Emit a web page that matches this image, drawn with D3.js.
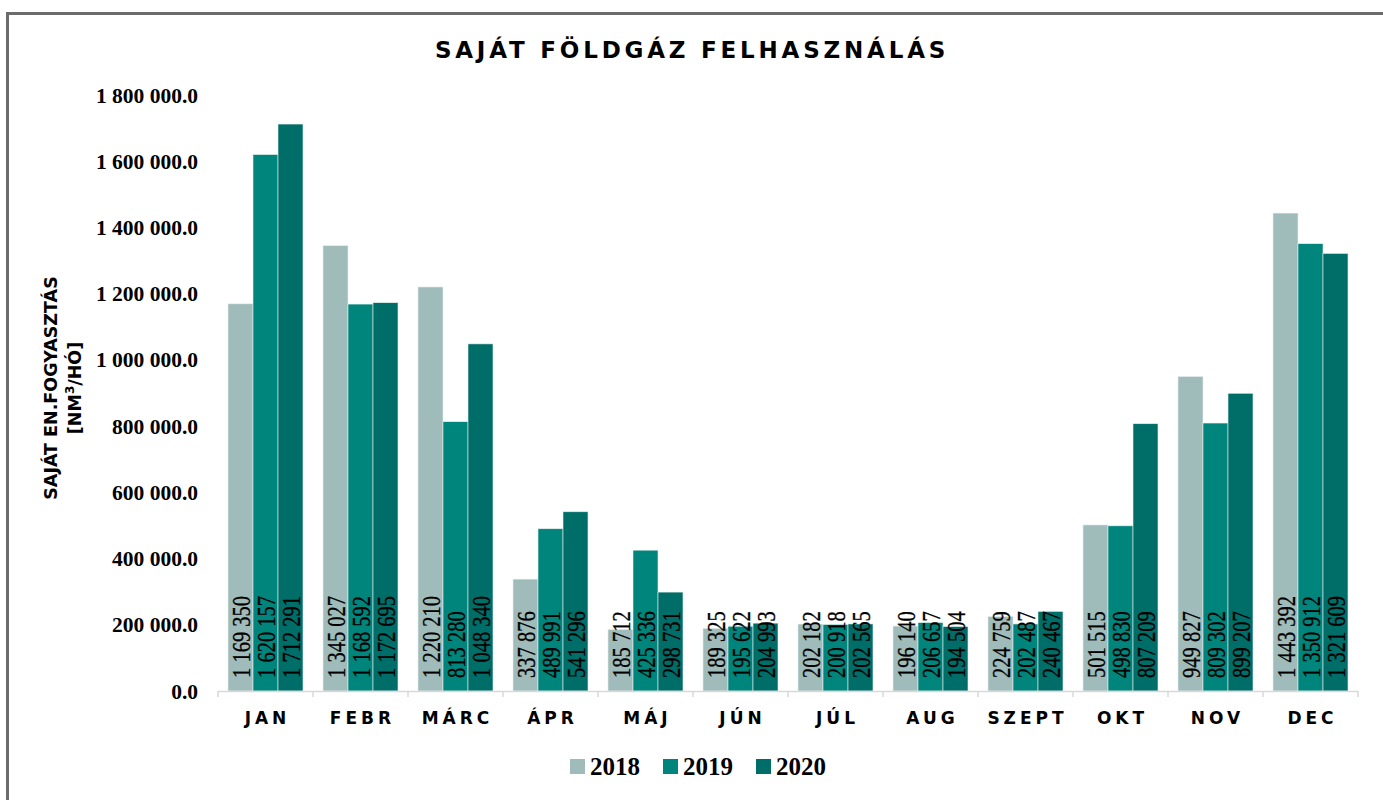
<!DOCTYPE html>
<html>
<head>
<meta charset="utf-8">
<script src="https://cdn.jsdelivr.net/npm/d3@7"></script>
<style>
  body { margin: 0; background: #fff; }
  svg { display: block; }
</style>
</head>
<body>
<svg id="chart" width="1383" height="800"></svg>
<script>
// chart data
var months = ['JAN','FEBR','MÁRC','ÁPR','MÁJ','JÚN','JÚL','AUG','SZEPT','OKT','NOV','DEC']
var years = ['2018','2019','2020']
var v2018 = [1169350, 1345027, 1220210, 337876, 185712, 189325, 202182, 196140, 224759, 501515, 949827, 1443392]
var v2019 = [1620157, 1168592, 813280, 489991, 425336, 195622, 200918, 206657, 202487, 498830, 809302, 1350912]
var v2020 = [1712291, 1172695, 1048340, 541296, 298731, 204993, 202565, 194504, 240467, 807209, 899207, 1321609]
var yTicks = [0, 200000, 400000, 600000, 800000, 1000000, 1200000, 1400000, 1600000, 1800000]
var colors = ['#a0bcba', '#00857c', '#006e68']

var series = [v2018, v2019, v2020]
var rows = []
months.forEach(function(m, i) {
  years.forEach(function(yr, j) {
    rows.push({month: m, year: yr, idx: j, value: series[j][i]})
  })
})

var svg = d3.select('#chart')

// outer frame (only top and left visible in the picture)
svg.append('rect')
  .attr('x', 7.5).attr('y', 13.5)
  .attr('width', 1400).attr('height', 820)
  .attr('fill', 'none').attr('stroke', '#6b6b6b').attr('stroke-width', 3)

var x = d3.scaleBand().domain(months).range([218, 1358]).padding(0)
var xInner = d3.scaleBand().domain(years).range([10, 85]).padding(0)
var y = d3.scaleLinear().domain([0, 1800000]).range([691, 95])

// title
svg.append('text')
  .attr('x', 692).attr('y', 58)
  .attr('text-anchor', 'middle')
  .style('font-family', '"DejaVu Sans", sans-serif')
  .style('font-weight', 'bold')
  .style('font-size', '23px')
  .style('letter-spacing', '3.8px')
  .text('SAJÁT FÖLDGÁZ FELHASZNÁLÁS')

// y axis labels
var fmt = d3.format(',.1f')
svg.append('g').selectAll('text')
  .data(yTicks)
  .enter().append('text')
  .attr('x', 198)
  .attr('y', function(d) { return y(d) })
  .attr('dy', '0.35em')
  .attr('text-anchor', 'end')
  .style('font-family', '"Liberation Serif", serif')
  .style('font-weight', 'bold')
  .style('font-size', '21.5px')
  .text(function(d) { return fmt(d).replace(/,/g, ' ') })

// y axis title
var yt = svg.append('text')
  .attr('transform', 'translate(0,388) rotate(-90)')
  .attr('text-anchor', 'middle')
  .style('font-family', '"DejaVu Sans", sans-serif')
  .style('font-weight', 'bold')
  .style('font-size', '17.5px')
yt.append('tspan').attr('x', 0).attr('y', 57).text('SAJÁT EN.FOGYASZTÁS')
var t2 = yt.append('tspan').attr('x', 0).attr('y', 81).text('[NM')
t2.append('tspan').attr('dy', -7).style('font-size', '12px').text('3')
t2.append('tspan').attr('dy', 7).text('/HÓ]')

// bars
svg.append('g').selectAll('rect')
  .data(rows)
  .enter().append('rect')
  .attr('x', function(d) { return x(d.month) + xInner(d.year) })
  .attr('y', function(d) { return y(d.value) })
  .attr('width', xInner.bandwidth())
  .attr('height', function(d) { return y(0) - y(d.value) })
  .attr('fill', function(d) { return colors[d.idx] })
  .attr('stroke', '#e6eeee').attr('stroke-width', 0.6)

// x axis line and ticks
var xa = svg.append('g')
xa.append('line')
  .attr('x1', 218).attr('x2', 1358).attr('y1', 691.5).attr('y2', 691.5)
  .attr('stroke', '#d9d9d9').attr('stroke-width', 1.5)
var bounds = months.map(function(m) { return x(m) }).concat([x.range()[1]])
xa.selectAll('line.tk')
  .data(bounds)
  .enter().append('line')
  .attr('class', 'tk')
  .attr('x1', function(d) { return d }).attr('x2', function(d) { return d })
  .attr('y1', 691).attr('y2', 697)
  .attr('stroke', '#d9d9d9').attr('stroke-width', 1.5)
xa.selectAll('text')
  .data(months)
  .enter().append('text')
  .attr('x', function(d) { return x(d) + x.bandwidth() / 2 + 2 })
  .attr('y', 724)
  .attr('text-anchor', 'middle')
  .style('font-family', '"DejaVu Sans", sans-serif')
  .style('font-weight', 'bold')
  .style('font-size', '17px')
  .style('letter-spacing', '4px')
  .text(function(d) { return d })

// value labels inside bars
var nf = d3.format(',')
svg.append('g').selectAll('text')
  .data(rows)
  .enter().append('text')
  .attr('transform', function(d) {
    var cx = x(d.month) + xInner(d.year) + xInner.bandwidth() / 2 + 9.5
    return 'translate(' + cx + ',678) rotate(-90) scale(0.79,1)'
  })
  .style('font-family', '"Liberation Serif", serif')
  .style('font-size', '26px')
  .attr('fill', '#000')
  .attr('stroke', '#000').attr('stroke-width', 0.35)
  .text(function(d) { return nf(d.value).replace(/,/g, ' ') })

// legend
var lg = svg.append('g').selectAll('g')
  .data(years)
  .enter().append('g')
  .attr('transform', function(d, i) { return 'translate(' + (570 + i * 93) + ',0)' })
lg.append('rect')
  .attr('x', 0).attr('y', 759).attr('width', 15).attr('height', 15)
  .attr('fill', function(d, i) { return colors[i] })
lg.append('text')
  .attr('x', 20).attr('y', 775)
  .style('font-family', '"Liberation Serif", serif')
  .style('font-weight', 'bold')
  .style('font-size', '25px')
  .text(function(d) { return d })
</script>
</body>
</html>
